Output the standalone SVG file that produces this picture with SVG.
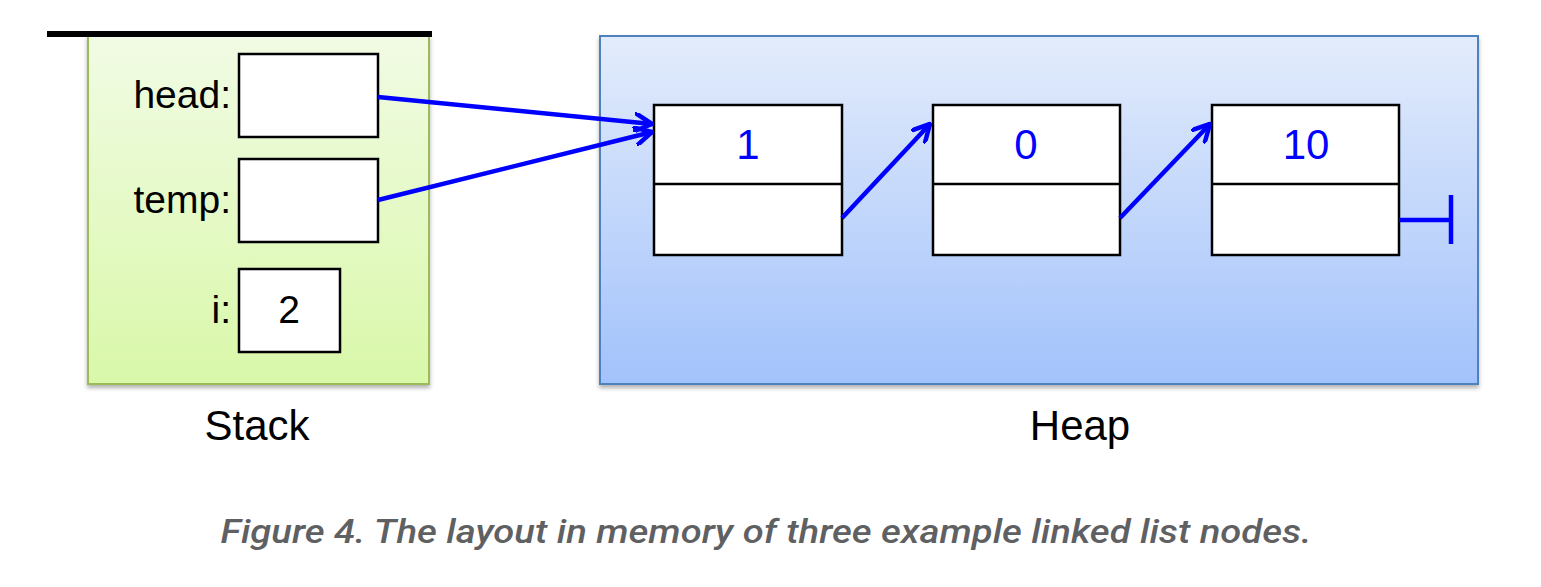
<svg xmlns="http://www.w3.org/2000/svg" width="1541" height="587" viewBox="0 0 1541 587">
<style>
.cell{fill:#fff;stroke:#000;stroke-width:2.5}
.lbl{font-family:"Liberation Sans",Arial,sans-serif;font-size:39px;fill:#000}
.big{font-family:"Liberation Sans",Arial,sans-serif;font-size:42px;fill:#000;text-anchor:middle}
.val{font-family:"Liberation Sans",Arial,sans-serif;font-size:42px;fill:#0000ff;text-anchor:middle}
.ptr{stroke:#0000ff;stroke-width:4.5;fill:none}
</style>
<defs>
<linearGradient id="gStack" x1="0" y1="0" x2="0" y2="1">
<stop offset="0" stop-color="#f1fbe4"/>
<stop offset="1" stop-color="#d9f8a9"/>
</linearGradient>
<linearGradient id="gHeap" x1="0" y1="0" x2="0" y2="1">
<stop offset="0" stop-color="#e3ecfb"/>
<stop offset="1" stop-color="#a2c2fb"/>
</linearGradient>
<filter id="sh" x="-5%" y="-5%" width="110%" height="115%">
<feDropShadow dx="0" dy="3" stdDeviation="2" flood-color="#000" flood-opacity="0.3"/>
</filter>
<marker id="ah" viewBox="0 0 20 20" refX="18" refY="10" markerWidth="20" markerHeight="20" markerUnits="userSpaceOnUse" orient="auto">
<path d="M1,1 L18,10 L1,19" fill="none" stroke="#0000ff" stroke-width="4.5" stroke-linecap="round" stroke-linejoin="round"/>
</marker>
</defs>
<rect width="1541" height="587" fill="#fff"/>

<g id="stack">
<rect x="88" y="36" width="341" height="348" fill="url(#gStack)" stroke="#9bbb59" stroke-width="2" filter="url(#sh)"/>
<line x1="47" y1="34" x2="432" y2="34" stroke="#000" stroke-width="6"/>
<text class="big" x="257" y="440">Stack</text>
</g>
<g id="var-head">
<text class="lbl" x="231" y="108" text-anchor="end">head:</text>
<rect class="cell" x="239" y="54" width="139" height="83"/>
</g>
<g id="var-temp">
<text class="lbl" x="231" y="213" text-anchor="end">temp:</text>
<rect class="cell" x="239" y="159" width="139" height="83"/>
</g>
<g id="var-i">
<text class="lbl" x="231" y="323" text-anchor="end">i:</text>
<rect class="cell" x="239" y="269" width="101" height="83"/>
<text class="lbl" x="289" y="323" text-anchor="middle">2</text>
</g>

<g id="heap">
<rect x="600" y="36" width="878" height="348" fill="url(#gHeap)" stroke="#4f81bd" stroke-width="2" filter="url(#sh)"/>
<text class="big" x="1080" y="440">Heap</text>
</g>
<g id="node1">
<rect class="cell" x="654" y="105" width="188" height="150"/>
<line x1="654" y1="184" x2="842" y2="184" stroke="#000" stroke-width="2.5"/>
<text class="val" x="748" y="159">1</text>
</g>
<g id="node2">
<rect class="cell" x="933" y="105" width="187" height="150"/>
<line x1="933" y1="184" x2="1120" y2="184" stroke="#000" stroke-width="2.5"/>
<text class="val" x="1026" y="159">0</text>
</g>
<g id="node3">
<rect class="cell" x="1212" y="105" width="187" height="150"/>
<line x1="1212" y1="184" x2="1399" y2="184" stroke="#000" stroke-width="2.5"/>
<text class="val" x="1306" y="159">10</text>
</g>

<g id="connectors">
<line class="ptr" x1="378" y1="97" x2="652" y2="124" marker-end="url(#ah)"/>
<line class="ptr" x1="378" y1="200" x2="652" y2="132" marker-end="url(#ah)"/>
<line class="ptr" x1="842" y1="218" x2="930" y2="124" marker-end="url(#ah)"/>
<line class="ptr" x1="1120" y1="218" x2="1210" y2="124" marker-end="url(#ah)"/>
<line class="ptr" x1="1399" y1="220" x2="1451" y2="220"/>
<line class="ptr" x1="1451" y1="195" x2="1451" y2="244"/>
</g>

<text x="766" y="543" text-anchor="middle" font-family="Roboto,'Liberation Sans',sans-serif" font-style="italic" font-weight="500" font-size="34" fill="#5f6062" textLength="1091" lengthAdjust="spacingAndGlyphs">Figure 4. The layout in memory of three example linked list nodes.</text>
</svg>
